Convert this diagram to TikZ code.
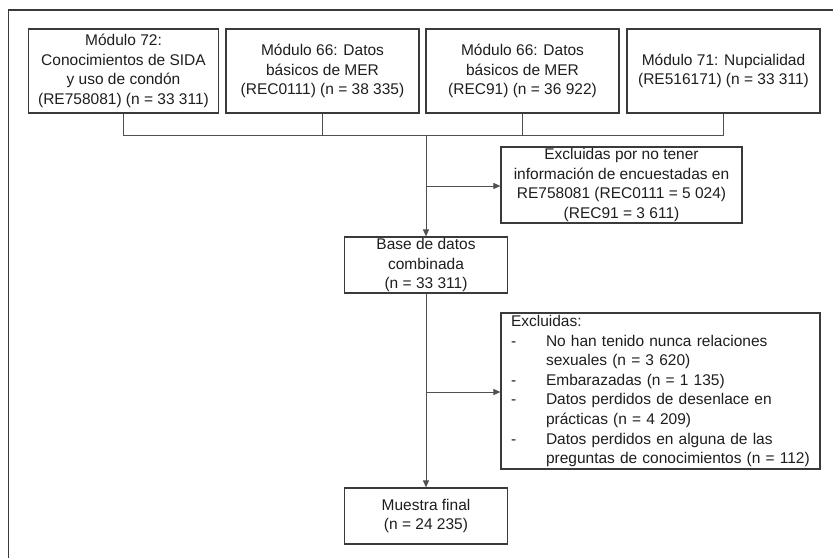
\documentclass[tikz,border=0pt]{standalone}
\usepackage{fontspec}
\setmainfont{Liberation Sans}
\usetikzlibrary{arrows.meta}
\definecolor{txt}{HTML}{1E1E1E}
\definecolor{edge}{HTML}{3A3A3A}
\definecolor{wirec}{HTML}{505050}
\begin{document}
\begin{tikzpicture}[x=1pt,y=-1pt,
  box/.style={draw=edge,line width=1.2pt,fill=white,inner sep=0pt,align=center,text=txt,
    font=\fontsize{15.5}{19.6}\selectfont},
  wire/.style={draw=wirec,line width=1pt},
  arr/.style={wire,-{Triangle[length=7pt,width=6pt]}}]
\useasboundingbox (0,0) rectangle (833,558);
\coordinate (fa) at (8.5,558);
\coordinate (fb) at (8.5,10);
\coordinate (fc) at (833,10);
\draw[edge,line width=1.3pt] (fa) -- (fb) -- (fc);

\node[box,minimum width=190pt,minimum height=84pt] (m72) at (123.5,71)
  {Módulo 72:\\Conocimientos de SIDA\\y uso de condón\\(RE758081) (n = 33 311)};
\node[box,minimum width=193pt,minimum height=84pt] (m66a) at (322.5,71)
  {Módulo 66: Datos\\básicos de MER\\(REC0111) (n = 38 335)};
\node[box,minimum width=193pt,minimum height=84pt] (m66b) at (522.5,71)
  {Módulo 66: Datos\\básicos de MER\\(REC91) (n = 36 922)};
\node[box,minimum width=193pt,minimum height=84pt] (m71) at (723.5,71)
  {Módulo 71: Nupcialidad\\(RE516171) (n = 33 311)};

\coordinate (j) at (426,135);
\draw[wire] (m72.south) -- (m72.south |- j) -- (m71.south |- j) -- (m71.south);
\draw[wire] (m66a.south) -- (m66a.south |- j);
\draw[wire] (m66b.south) -- (m66b.south |- j);

\node[box,minimum width=163pt,minimum height=56pt] (base) at (426,265)
  {Base de datos\\combinada\\(n = 33 311)};
\draw[arr] (j) -- (base.north);

\node[box,minimum width=241pt,minimum height=76pt] (ex1) at (621.5,185)
  {Excluidas por no tener\\información de encuestadas en\\RE758081 (REC0111 = 5 024)\\(REC91 = 3 611)};
\coordinate (b1) at (426,186);
\draw[arr] (b1) -- (b1 -| ex1.west);

\node[box,minimum width=319pt,minimum height=156pt,text width=299pt,inner xsep=10pt,align=left] (ex2) at (660.5,391)
  {Excluidas:\\
   \makebox[35pt][l]{-}No han tenido nunca relaciones\\
   \hspace*{35pt}sexuales (n = 3 620)\\
   \makebox[35pt][l]{-}Embarazadas (n = 1 135)\\
   \makebox[35pt][l]{-}Datos perdidos de desenlace en\\
   \hspace*{35pt}prácticas (n = 4 209)\\
   \makebox[35pt][l]{-}Datos perdidos en alguna de las\\
   \hspace*{35pt}preguntas de conocimientos (n = 112)};
\coordinate (b2) at (426,392);
\draw[arr] (b2) -- (b2 -| ex2.west);

\node[box,minimum width=163pt,minimum height=56pt] (final) at (426,516)
  {Muestra final\\(n = 24 235)};
\draw[arr] (base.south) -- (final.north);
\end{tikzpicture}
\end{document}
